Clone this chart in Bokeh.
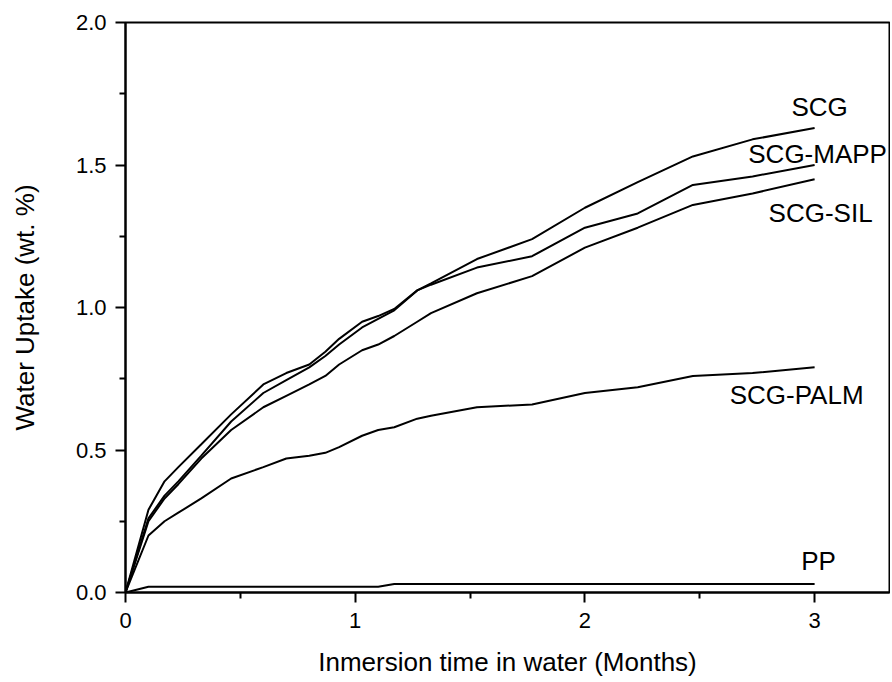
from bokeh.plotting import figure
from bokeh.embed import file_html
from bokeh.resources import INLINE
from bokeh.models import FixedTicker, NumeralTickFormatter, ColumnDataSource
from bokeh.core.properties import value

# ---- data ----
months = [0, 0.1, 0.17, 0.23, 0.33, 0.46, 0.6, 0.7, 0.8, 0.87, 0.93, 1.03, 1.1,
          1.17, 1.27, 1.33, 1.53, 1.77, 2.0, 2.23, 2.47, 2.73, 3.0]
scg = [0, 0.29, 0.39, 0.44, 0.52, 0.625, 0.73, 0.77, 0.80, 0.845, 0.89, 0.95, 0.97,
       0.995, 1.06, 1.085, 1.17, 1.24, 1.35, 1.44, 1.53, 1.59, 1.63]
scg_mapp = [0, 0.26, 0.34, 0.39, 0.48, 0.60, 0.70, 0.745, 0.79, 0.83, 0.87, 0.93, 0.96,
            0.99, 1.06, 1.08, 1.14, 1.18, 1.28, 1.33, 1.43, 1.46, 1.50]
scg_sil = [0, 0.25, 0.33, 0.38, 0.47, 0.57, 0.65, 0.69, 0.73, 0.76, 0.80, 0.85, 0.87,
           0.90, 0.95, 0.98, 1.05, 1.11, 1.21, 1.28, 1.36, 1.40, 1.45]
scg_palm = [0, 0.20, 0.25, 0.28, 0.33, 0.40, 0.44, 0.47, 0.48, 0.49, 0.51, 0.55, 0.57,
            0.58, 0.61, 0.62, 0.65, 0.66, 0.70, 0.72, 0.76, 0.77, 0.79]
pp = [0, 0.02, 0.02, 0.02, 0.02, 0.02, 0.02, 0.02, 0.02, 0.02, 0.02, 0.02, 0.02,
      0.03, 0.03, 0.03, 0.03, 0.03, 0.03, 0.03, 0.03, 0.03, 0.03]

series_names = ["SCG", "SCG-MAPP", "SCG-SIL", "SCG-PALM", "PP"]
series_values = [scg, scg_mapp, scg_sil, scg_palm, pp]

x_ticks = [0, 1, 2, 3]
x_minor = [0.5, 1.5, 2.5]
y_ticks = [0.0, 0.5, 1.0, 1.5, 2.0]
y_minor = [0.25, 0.75, 1.25, 1.75]

x_title = "Inmersion time in water (Months)"
y_title = "Water Uptake (wt. %)"

# label placement (screen offsets relative to each series' last point)
label_dx = [5, 3, 6, -18, 4]
label_dy = [-21, -11, 34, 28, -23]

FONT = "Liberation Sans"

p = figure(width=890, height=680, x_range=(0, 3.326), y_range=(0, 2.0),
           output_backend="svg", toolbar_location=None,
           min_border_left=125, min_border_right=1, min_border_top=22,
           min_border_bottom=88)
p.xgrid.visible = False
p.ygrid.visible = False
p.background_fill_color = "white"
p.border_fill_color = "white"
p.outline_line_color = "black"
p.outline_line_width = 2
p.outline_line_alpha = 1

for vals in series_values:
    p.line(months, vals, line_color="black", line_width=2)

lx = [months[-1] for _ in series_values]
ly = [v[-1] for v in series_values]
src = ColumnDataSource(dict(x=lx, y=ly, t=series_names, dx=label_dx, dy=label_dy))
p.text(x="x", y="y", text="t", x_offset="dx", y_offset="dy", source=src,
       text_align="center", text_baseline="middle",
       text_font=value(FONT), text_font_size="26px", text_color="black")

for ax in (p.xaxis[0], p.yaxis[0]):
    ax.axis_line_width = 2
    ax.axis_line_color = "black"
    ax.major_tick_line_width = 2
    ax.minor_tick_line_width = 2
    ax.major_tick_out = 10
    ax.major_tick_in = 0
    ax.minor_tick_out = 6
    ax.minor_tick_in = 0
    ax.major_label_text_font = FONT
    ax.major_label_text_font_size = "22px"
    ax.major_label_text_color = "black"
    ax.axis_label_text_font = FONT
    ax.axis_label_text_font_size = "26px"
    ax.axis_label_text_font_style = "normal"
    ax.axis_label_text_color = "black"

p.xaxis[0].ticker = FixedTicker(ticks=x_ticks, minor_ticks=x_minor)
p.yaxis[0].ticker = FixedTicker(ticks=y_ticks, minor_ticks=y_minor)
p.yaxis[0].formatter = NumeralTickFormatter(format="0.0")
p.xaxis[0].axis_label = x_title
p.yaxis[0].axis_label = y_title
p.xaxis[0].major_label_standoff = 10
p.yaxis[0].major_label_standoff = 9
p.xaxis[0].axis_label_standoff = 16
p.yaxis[0].axis_label_standoff = 33

open("out.html", "w").write(file_html(p, INLINE))
